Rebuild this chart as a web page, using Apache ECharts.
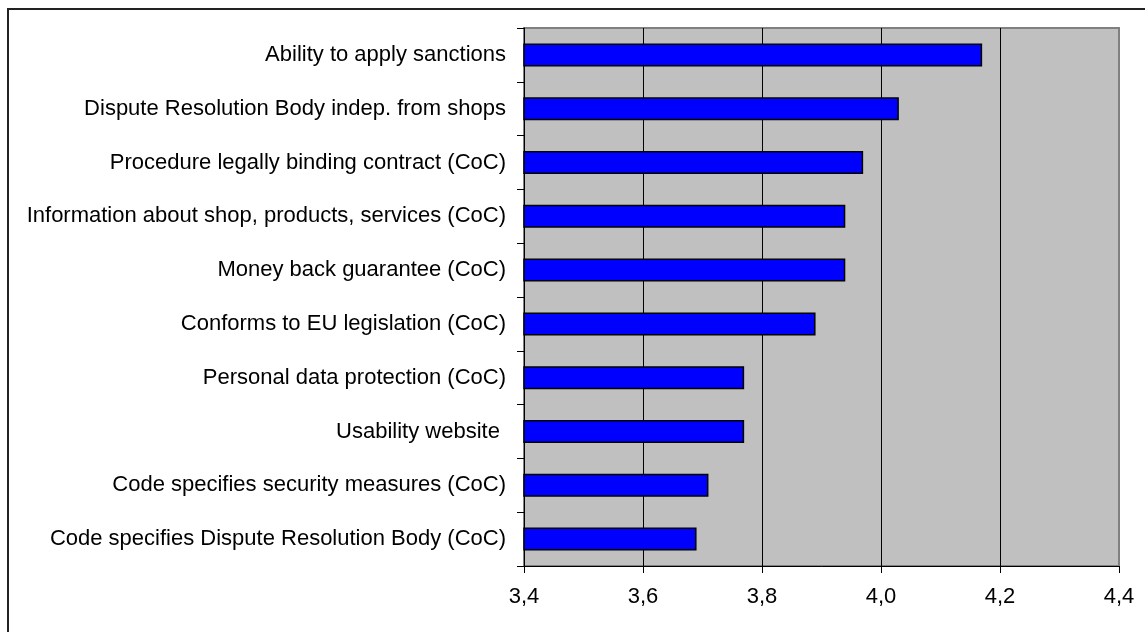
<!DOCTYPE html>
<html>
<head>
<meta charset="utf-8">
<script src="https://cdn.jsdelivr.net/npm/echarts@6/dist/echarts.min.js"></script>
<style>
  html, body { margin: 0; padding: 0; background: #fff; }
  #chart { width: 1145px; height: 632px; }
</style>
</head>
<body>
<div id="chart"></div>
<script>
// Mean importance rating per trustmark criterion
const categories = [
  'Ability to apply sanctions',
  'Dispute Resolution Body indep. from shops',
  'Procedure legally binding contract (CoC)',
  'Information about shop, products, services (CoC)',
  'Money back guarantee (CoC)',
  'Conforms to EU legislation (CoC)',
  'Personal data protection (CoC)',
  'Usability website ',
  'Code specifies security measures (CoC)',
  'Code specifies Dispute Resolution Body (CoC)'
];
const scores = [4.17, 4.03, 3.97, 3.94, 3.94, 3.89, 3.77, 3.77, 3.71, 3.69];
const xTickLabels = ['3,4', '3,6', '3,8', '4,0', '4,2', '4,4'];

const FONT = '"Liberation Sans", Arial, sans-serif';
const chart = echarts.init(document.getElementById('chart'));

chart.setOption({
  backgroundColor: '#ffffff',
  animation: false,
  graphic: [{
    type: 'rect',
    shape: { x: 8, y: 9, width: 1200, height: 700 },
    style: { fill: 'none', stroke: '#222', lineWidth: 2 },
    z: 100
  }],
  grid: {
    left: 524, right: 26, top: 28, bottom: 66,
    show: true,
    backgroundColor: '#c0c0c0',
    borderColor: '#808080',
    borderWidth: 2
  },
  xAxis: {
    type: 'value',
    min: 3.4, max: 4.4, interval: 0.2,
    axisLine: { show: true, onZero: false, lineStyle: { color: '#000', width: 1 } },
    axisTick: { show: true, length: 7, lineStyle: { color: '#000' } },
    axisLabel: {
      color: '#000', fontFamily: FONT, fontSize: 22, margin: 20,
      formatter: (v, i) => xTickLabels[i]
    },
    splitLine: {
      show: true,
      lineStyle: { color: ['#000', '#000', '#000', '#000', '#000', '#808080'], width: 1 }
    }
  },
  yAxis: {
    type: 'category',
    data: categories,
    inverse: true,
    axisLine: { show: true, lineStyle: { color: '#000', width: 1 } },
    axisTick: { show: true, length: 7, alignWithLabel: false, lineStyle: { color: '#000' } },
    axisLabel: { color: '#000', fontFamily: FONT, fontSize: 22, margin: 18 },
    splitLine: { show: false }
  },
  series: [{
    type: 'bar',
    data: scores,
    barWidth: 23,
    itemStyle: { color: '#0000ff', borderColor: '#000', borderWidth: 1.5 }
  }]
});
</script>
</body>
</html>
